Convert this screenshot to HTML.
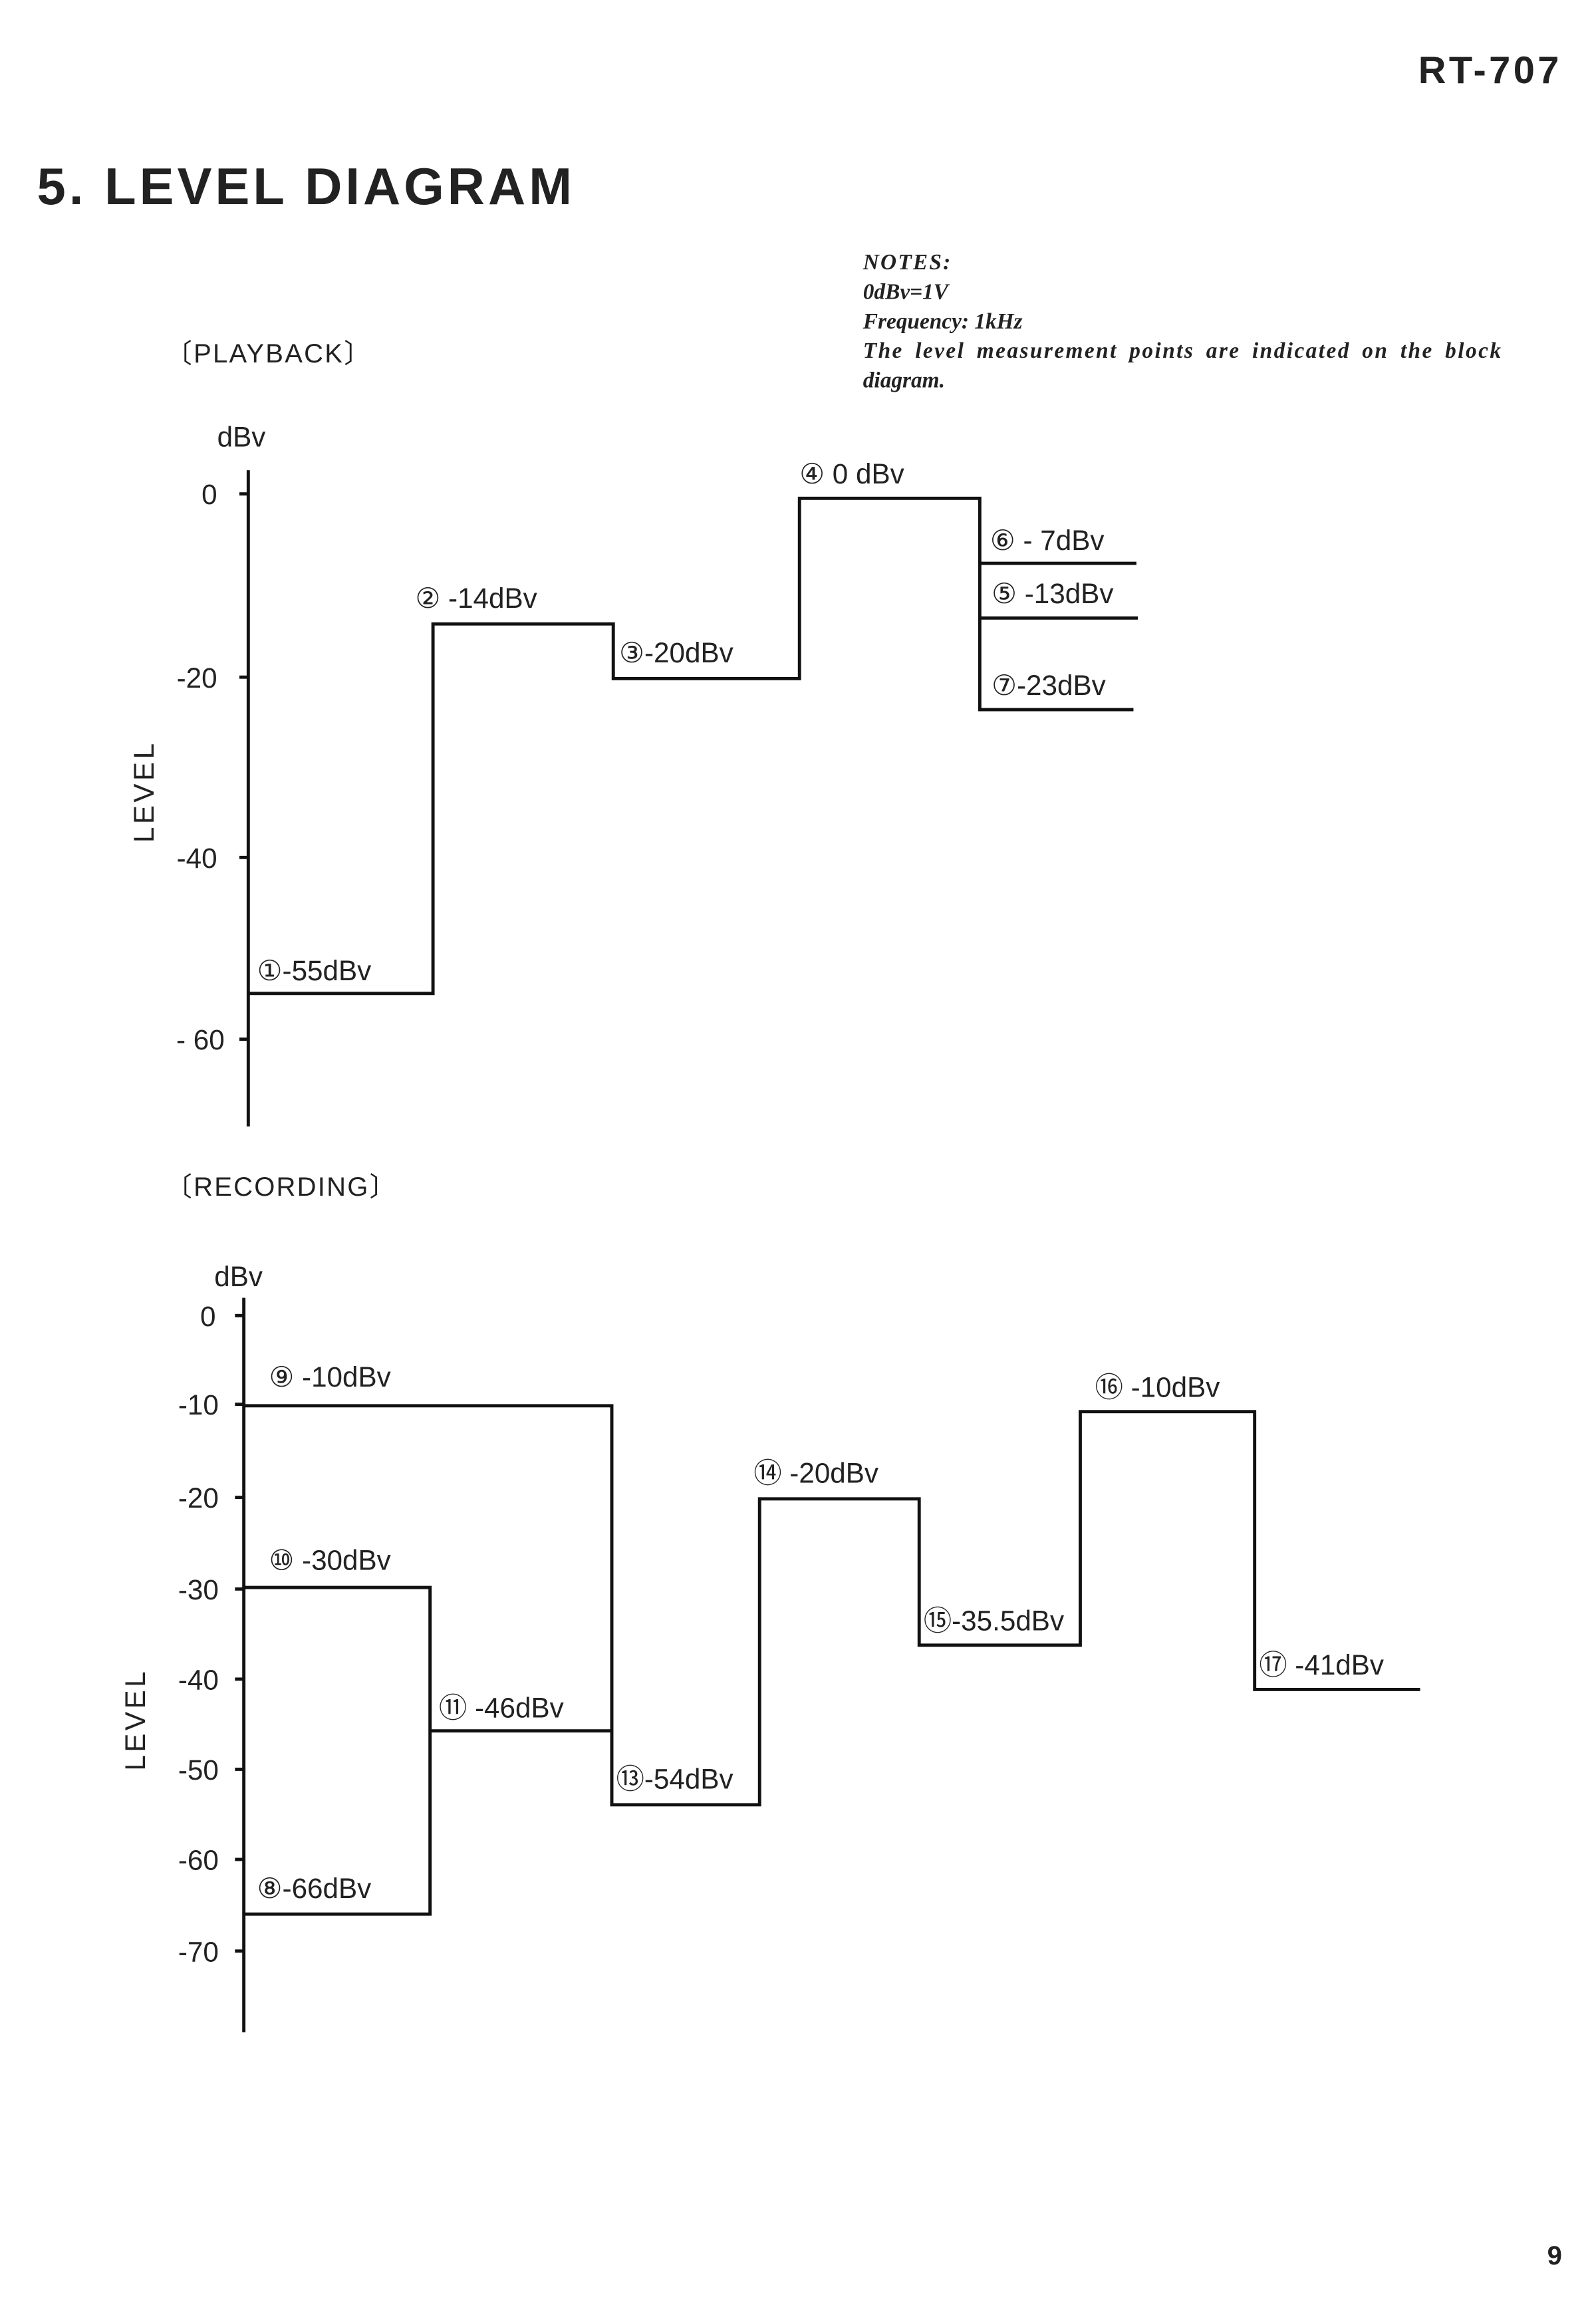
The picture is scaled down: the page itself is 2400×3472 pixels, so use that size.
<!DOCTYPE html>
<html><head><meta charset="utf-8"><style>
html,body{margin:0;padding:0;background:#fff}
svg{display:block}
.t{font-family:"Liberation Sans","DejaVu Sans","Noto Sans CJK JP",sans-serif;fill:#222}
.n{font-family:"Liberation Serif",serif;font-style:italic;font-weight:bold;font-size:15px;fill:#222}
</style></head><body>
<svg width="2400" height="3472" viewBox="0 0 1080 1562" xmlns="http://www.w3.org/2000/svg">
<rect width="1080" height="1562" fill="#fff"/>
<text class="t" x="1057" y="56" text-anchor="end" font-size="26" font-weight="bold" letter-spacing="2">RT-707</text>
<text class="t" x="25" y="138" font-size="35" font-weight="bold" textLength="362" lengthAdjust="spacing">5. LEVEL  DIAGRAM</text>
<text class="n" x="584" y="182" letter-spacing="1">NOTES:</text>
<text class="n" x="584" y="202">0dBv=1V</text>
<text class="n" x="584" y="222">Frequency: 1kHz</text>
<text class="n" x="584" y="242" letter-spacing="1.1" word-spacing="3">The level measurement points are indicated on the block</text>
<text class="n" x="584" y="262">diagram.</text>
<text class="t" x="112" y="245" font-size="18" letter-spacing="1">〔PLAYBACK〕</text>
<text class="t" x="112" y="809" font-size="18" letter-spacing="1">〔RECORDING〕</text>

<g stroke="#111" stroke-width="2.2" fill="none">
<line x1="168" y1="318" x2="168" y2="762"/>
<line x1="162" y1="334" x2="168" y2="334"/><line x1="162" y1="458" x2="168" y2="458"/>
<line x1="162" y1="580" x2="168" y2="580"/><line x1="162" y1="703" x2="168" y2="703"/>
<polyline points="168,672 293,672 293,422 415,422 415,459 541,459 541,337 663,337 663,480 767,480"/>
<line x1="663" y1="381" x2="769" y2="381"/>
<line x1="663" y1="418" x2="770" y2="418"/>
<line x1="165" y1="878" x2="165" y2="1375"/>
<line x1="159" y1="890" x2="165" y2="890"/><line x1="159" y1="950" x2="165" y2="950"/>
<line x1="159" y1="1013" x2="165" y2="1013"/><line x1="159" y1="1075" x2="165" y2="1075"/>
<line x1="159" y1="1136" x2="165" y2="1136"/><line x1="159" y1="1197" x2="165" y2="1197"/>
<line x1="159" y1="1258" x2="165" y2="1258"/><line x1="159" y1="1320" x2="165" y2="1320"/>
<polyline points="165,951 414,951 414,1221 514,1221 514,1014 622,1014 622,1113 731,1113 731,955 849,955 849,1143 961,1143"/>
<polyline points="165,1074 291,1074 291,1295 165,1295"/>
<line x1="291" y1="1171" x2="414" y2="1171"/>
</g>

<g class="t" font-size="19">
<text x="147" y="302">dBv</text>
<text x="147" y="341" text-anchor="end">0</text>
<text x="147" y="465" text-anchor="end">-20</text>
<text x="147" y="587" text-anchor="end">-40</text>
<text x="152" y="710" text-anchor="end">- 60</text>
<text transform="translate(104,570) rotate(-90)" letter-spacing="2">LEVEL</text>

<text x="174" y="663">①-55dBv</text>
<text x="281" y="411">② -14dBv</text>
<text x="419" y="448">③-20dBv</text>
<text x="541" y="327">④ 0 dBv</text>
<text x="670" y="372">⑥ - 7dBv</text>
<text x="671" y="408">⑤ -13dBv</text>
<text x="671" y="470">⑦-23dBv</text>

<text x="145" y="870">dBv</text>
<text x="146" y="897" text-anchor="end">0</text>
<text x="148" y="957" text-anchor="end">-10</text>
<text x="148" y="1020" text-anchor="end">-20</text>
<text x="148" y="1082" text-anchor="end">-30</text>
<text x="148" y="1143" text-anchor="end">-40</text>
<text x="148" y="1204" text-anchor="end">-50</text>
<text x="148" y="1265" text-anchor="end">-60</text>
<text x="148" y="1327" text-anchor="end">-70</text>
<text transform="translate(98,1198) rotate(-90)" letter-spacing="2">LEVEL</text>

<text x="182" y="938">⑨  -10dBv</text>
<text x="182" y="1062">⑩ -30dBv</text>
<text x="297" y="1162">⑪ -46dBv</text>
<text x="417" y="1210">⑬-54dBv</text>
<text x="510" y="1003">⑭ -20dBv</text>
<text x="625" y="1103">⑮-35.5dBv</text>
<text x="741" y="945">⑯ -10dBv</text>
<text x="852" y="1133">⑰ -41dBv</text>
<text x="174" y="1284">⑧-66dBv</text>
</g>
<text class="t" x="1057" y="1532" text-anchor="end" font-size="18" font-weight="bold">9</text>
</svg>
</body></html>
